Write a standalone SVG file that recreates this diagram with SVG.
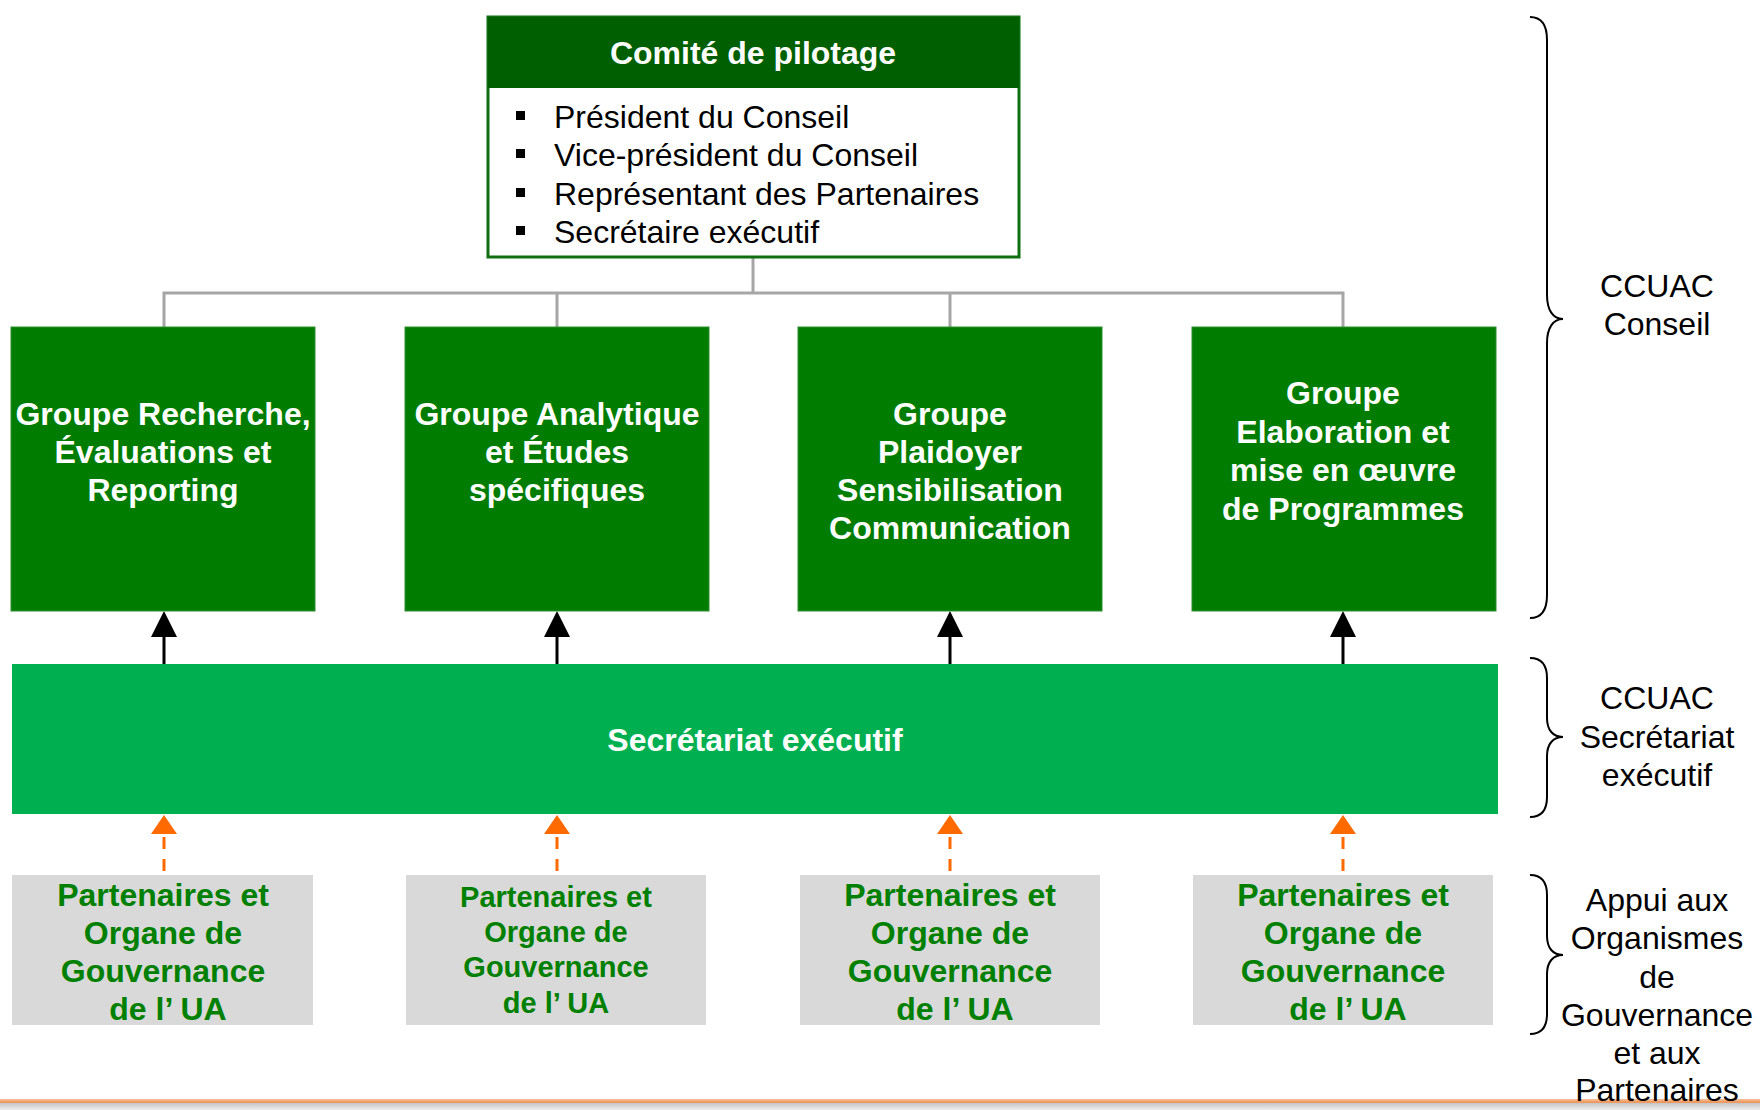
<svg xmlns="http://www.w3.org/2000/svg" width="1760" height="1110" viewBox="0 0 1760 1110">
<style>
text{font-family:"Liberation Sans",Arial,sans-serif;font-size:32px;text-anchor:middle}
.b{font-weight:bold}
.w{fill:#ffffff}
.k{fill:#000000}
.g{fill:#008000}
.grp{fill:#007d00;stroke:#2f8f2f;stroke-width:1}
.prt{fill:#d9d9d9}
.tree{stroke:#a6a6a6;stroke-width:3;fill:none}
.blk{stroke:#000;stroke-width:3;fill:none}
.org{stroke:#ff6a00;stroke-width:3;fill:none;stroke-dasharray:12 10}
.brace{stroke:#000;stroke-width:2;fill:none}
.lft{text-anchor:start}
</style>
<defs>
<linearGradient id="shadow" x1="0" y1="0" x2="0" y2="1">
<stop offset="0" stop-color="#c4c4c4"/>
<stop offset="1" stop-color="#efefef"/>
</linearGradient>
</defs>

<g id="footer-line">
<rect x="0" y="1099" width="1760" height="2" fill="#f7b58a"/>
<rect x="0" y="1101" width="1760" height="2" fill="#ee9a62"/>
<rect x="0" y="1103" width="1760" height="7" fill="url(#shadow)"/>
</g>

<g id="connectors">
<path class="tree" d="M753,258 V293 M164,327 V293 H1343 V327 M557,293 V327 M950,293 V327"/>
<path class="blk" d="M164,664 V636"/><path d="M164,611 L177,637 L151,637 Z" fill="#000"/>
<path class="blk" d="M557,664 V636"/><path d="M557,611 L570,637 L544,637 Z" fill="#000"/>
<path class="blk" d="M950,664 V636"/><path d="M950,611 L963,637 L937,637 Z" fill="#000"/>
<path class="blk" d="M1343,664 V636"/><path d="M1343,611 L1356,637 L1330,637 Z" fill="#000"/>
<path class="org" d="M164,837 V875"/><path d="M164,815 L177,834 L151,834 Z" fill="#ff6a00"/>
<path class="org" d="M557,837 V875"/><path d="M557,815 L570,834 L544,834 Z" fill="#ff6a00"/>
<path class="org" d="M950,837 V875"/><path d="M950,815 L963,834 L937,834 Z" fill="#ff6a00"/>
<path class="org" d="M1343,837 V875"/><path d="M1343,815 L1356,834 L1330,834 Z" fill="#ff6a00"/>
</g>

<g id="comite">
<rect x="488" y="17" width="531" height="240" fill="#ffffff" stroke="#0f6e0f" stroke-width="3"/>
<rect x="488" y="17" width="531" height="71" fill="#005f00"/>
<text class="b w" x="753" y="64">Comité de pilotage</text>
<rect x="516" y="111" width="9" height="9" fill="#000"/>
<rect x="516" y="149" width="9" height="9" fill="#000"/>
<rect x="516" y="188" width="9" height="9" fill="#000"/>
<rect x="516" y="226" width="9" height="9" fill="#000"/>
<text class="k lft" x="554" y="128">Président du Conseil</text>
<text class="k lft" x="554" y="166">Vice-président du Conseil</text>
<text class="k lft" x="554" y="205">Représentant des Partenaires</text>
<text class="k lft" x="554" y="243">Secrétaire exécutif</text>
</g>

<g id="groupe1">
<rect class="grp" x="11" y="327" width="304" height="284"/>
<text class="b w" x="163" y="425">Groupe Recherche,</text>
<text class="b w" x="163" y="463">Évaluations et</text>
<text class="b w" x="163" y="501">Reporting</text>
</g>
<g id="groupe2">
<rect class="grp" x="405" y="327" width="304" height="284"/>
<text class="b w" x="557" y="425">Groupe Analytique</text>
<text class="b w" x="557" y="463">et Études</text>
<text class="b w" x="557" y="501">spécifiques</text>
</g>
<g id="groupe3">
<rect class="grp" x="798" y="327" width="304" height="284"/>
<text class="b w" x="950" y="425">Groupe</text>
<text class="b w" x="950" y="463">Plaidoyer</text>
<text class="b w" x="950" y="501">Sensibilisation</text>
<text class="b w" x="950" y="539">Communication</text>
</g>
<g id="groupe4">
<rect class="grp" x="1192" y="327" width="304" height="284"/>
<text class="b w" x="1343" y="404">Groupe</text>
<text class="b w" x="1343" y="443">Elaboration et</text>
<text class="b w" x="1343" y="481">mise en œuvre</text>
<text class="b w" x="1343" y="520">de Programmes</text>
</g>

<g id="secretariat">
<rect x="12" y="664" width="1486" height="150" fill="#00b050"/>
<text class="b w" x="755" y="751">Secrétariat exécutif</text>
</g>

<g id="partenaires1">
<rect class="prt" x="12" y="875" width="301" height="150"/>
<text class="b g" x="163" y="906">Partenaires et</text>
<text class="b g" x="163" y="944">Organe de</text>
<text class="b g" x="163" y="982">Gouvernance</text>
<text class="b g" x="168" y="1020">de l’ UA</text>
</g>
<g id="partenaires2">
<rect class="prt" x="406" y="875" width="300" height="150"/>
<text class="b g" x="556" y="907" style="font-size:29px">Partenaires et</text>
<text class="b g" x="556" y="942" style="font-size:29px">Organe de</text>
<text class="b g" x="556" y="977" style="font-size:29px">Gouvernance</text>
<text class="b g" x="556" y="1013" style="font-size:29px">de l’ UA</text>
</g>
<g id="partenaires3">
<rect class="prt" x="800" y="875" width="300" height="150"/>
<text class="b g" x="950" y="906">Partenaires et</text>
<text class="b g" x="950" y="944">Organe de</text>
<text class="b g" x="950" y="982">Gouvernance</text>
<text class="b g" x="955" y="1020">de l’ UA</text>
</g>
<g id="partenaires4">
<rect class="prt" x="1193" y="875" width="300" height="150"/>
<text class="b g" x="1343" y="906">Partenaires et</text>
<text class="b g" x="1343" y="944">Organe de</text>
<text class="b g" x="1343" y="982">Gouvernance</text>
<text class="b g" x="1348" y="1020">de l’ UA</text>
</g>

<g id="labels">
<path class="brace" d="M1530,17 C1541,17 1547,25 1547,40 V295 C1547,310 1553,319 1563,319 C1553,319 1547,328 1547,343 V595 C1547,610 1541,618 1530,618"/>
<text class="k" x="1657" y="297">CCUAC</text>
<text class="k" x="1657" y="335">Conseil</text>
<path class="brace" d="M1530,658 C1541,658 1547,665 1547,678 V718 C1547,730 1553,737 1563,737 C1553,737 1547,744 1547,756 V797 C1547,810 1541,817 1530,817"/>
<text class="k" x="1657" y="709">CCUAC</text>
<text class="k" x="1657" y="748">Secrétariat</text>
<text class="k" x="1657" y="786">exécutif</text>
<path class="brace" d="M1530,875 C1541,875 1547,882 1547,895 V936 C1547,948 1553,955 1563,955 C1553,955 1547,962 1547,974 V1014 C1547,1027 1541,1034 1530,1034"/>
<text class="k" x="1657" y="911">Appui aux</text>
<text class="k" x="1657" y="949">Organismes</text>
<text class="k" x="1657" y="988">de</text>
<text class="k" x="1657" y="1026">Gouvernance</text>
<text class="k" x="1657" y="1064">et aux</text>
<text class="k" x="1657" y="1101">Partenaires</text>
</g>
</svg>
